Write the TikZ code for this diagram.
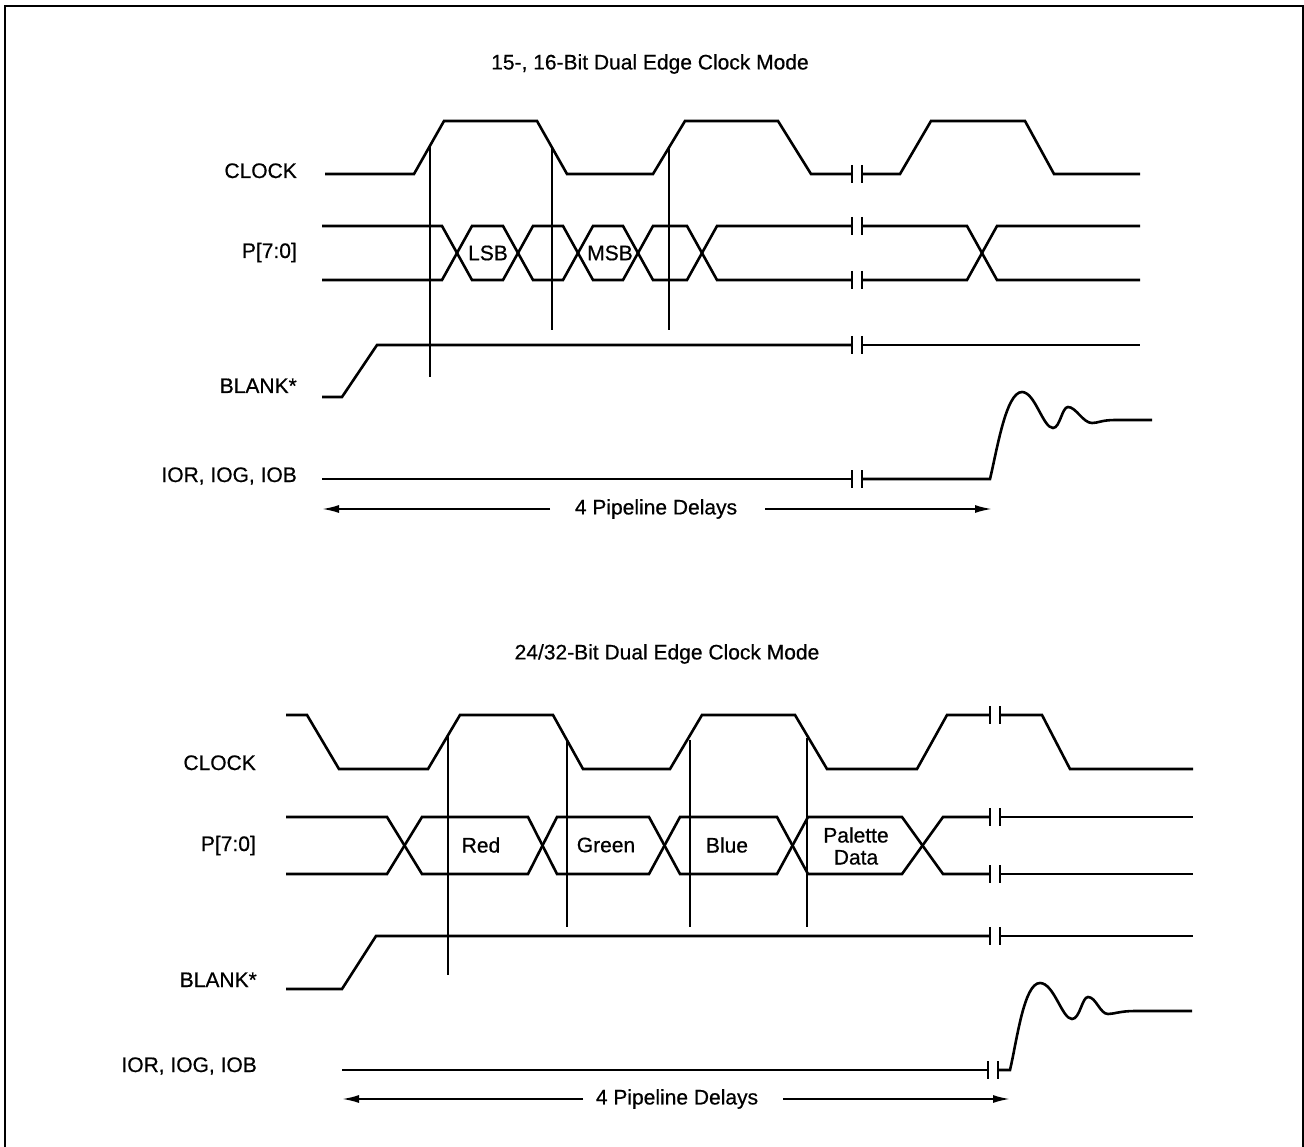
\documentclass[tikz,border=0pt]{standalone}
\usepackage{fontspec}
\setmainfont[FakeBold=0.6]{Liberation Sans}
\usetikzlibrary{arrows.meta}
\newcommand\brkticks[2]{\draw[brkmark] (#1,#2-9) -- (#1,#2+9) (#1+10,#2-9) -- (#1+10,#2+9);}
\begin{document}
\begin{tikzpicture}[x=1pt,y=-1pt,
  wave/.style={line width=2.6pt, line join=miter},
  refline/.style={line width=1.3pt},
  lbl/.style={font=\fontsize{21}{23}\selectfont, inner sep=0pt},
  brkmark/.style={line width=1.6pt},
  arr/.style={line width=2pt, -{Latex[length=17pt,width=8pt]}}]
\useasboundingbox (0,0) rectangle (1304,1147);
% frame
\draw[line width=2pt] (5,1147) -- (5,6) -- (1303,6) -- (1303,1147);

% ================= TOP DIAGRAM =================
\node[lbl] (t1) at (650,64) {15-, 16-Bit Dual Edge Clock Mode};
\node[lbl, anchor=base east] (c1) at (297,178) {CLOCK};
\node[lbl, anchor=base east] (p1) at (297,258) {P[7:0]};
\node[lbl, anchor=base east] (b1) at (297,393) {BLANK*};
\node[lbl, anchor=base east] (i1) at (297,482) {IOR, IOG, IOB};

% clock
\draw[wave] (325,174) -- (414,174) -- (444,121) -- (537,121) -- (567,174) -- (653,174) -- (685,121) -- (778,121) -- (811,174) -- (852,174);
\draw[wave] (862,174) -- (900,174) -- (931,121) -- (1025,121) -- (1054,174) -- (1140,174);
\brkticks{852}{174}
% P bus
\draw[wave] (322,226) -- (442,226) -- (472,280) -- (503,280) -- (533,226) -- (563,226) -- (593,280) -- (623,280) -- (653,226) -- (687,226) -- (717,280) -- (852,280);
\draw[wave] (862,280) -- (967,280) -- (997,226) -- (1140,226);
\draw[wave] (322,280) -- (442,280) -- (472,226) -- (503,226) -- (533,280) -- (563,280) -- (593,226) -- (623,226) -- (653,280) -- (687,280) -- (717,226) -- (852,226);
\draw[wave] (862,226) -- (967,226) -- (997,280) -- (1140,280);
\brkticks{852}{226}
\brkticks{852}{280}
\node[lbl] (lsb) at (488,253) {LSB};
\node[lbl] (msb) at (610,253) {MSB};
% blank
\draw[wave] (322,397) -- (342,397) -- (377,345) -- (852,345);
\draw[wave] (862,345) -- (1140,345);
\brkticks{852}{345}
% IOR
\draw[wave] (322,479) -- (852,479);
\draw[wave] (862,479) -- (990,479) .. controls (997,450) and (1006,392) .. (1022,392)
  .. controls (1035,392) and (1043,428) .. (1053,428)
  .. controls (1060,428) and (1062,407) .. (1068,407)
  .. controls (1076,407) and (1083,423) .. (1092,423)
  .. controls (1098,423) and (1102,420) .. (1115,420) -- (1152,420);
\brkticks{852}{479}
% reference lines
\draw[refline] (430,147) -- (430,377);
\draw[refline] (552,147) -- (552,330);
\draw[refline] (669,147) -- (669,330);
% pipeline arrow
\node[lbl] (d1) at (656,509) {4 Pipeline Delays};
\coordinate (d1l) at (322,509);
\coordinate (d1r) at (992,509);
\draw[arr] (550,509) -- (d1l);
\draw[arr] (765,509) -- (d1r);

% ================= BOTTOM DIAGRAM =================
\node[lbl] (t2) at (667,654) {24/32-Bit Dual Edge Clock Mode};
\node[lbl, anchor=base east] (c2) at (256,770) {CLOCK};
\node[lbl, anchor=base east] (p2) at (256,851) {P[7:0]};
\node[lbl, anchor=base east] (b2) at (257,987) {BLANK*};
\node[lbl, anchor=base east] (i2) at (257,1072) {IOR, IOG, IOB};

% clock
\draw[wave] (286,715) -- (307,715) -- (339,769) -- (428,769) -- (460,715) -- (553,715) -- (583,769) -- (670,769) -- (702,715) -- (795,715) -- (827,769) -- (917,769) -- (947,715) -- (990,715);
\draw[wave] (1000,715) -- (1042,715) -- (1070,769) -- (1193,769);
\brkticks{990}{715}
% P bus
\draw[wave] (286,817) -- (387,817) -- (422,874) -- (528,874) -- (557,817) -- (649,817) -- (680,874) -- (777,874) -- (808,817) -- (902,817) -- (943,874) -- (990,874);
\draw[wave] (1000,874) -- (1193,874);
\draw[wave] (286,874) -- (387,874) -- (422,817) -- (528,817) -- (557,874) -- (649,874) -- (680,817) -- (777,817) -- (808,874) -- (902,874) -- (943,817) -- (990,817);
\draw[wave] (1000,817) -- (1193,817);
\brkticks{990}{817}
\brkticks{990}{874}
\node[lbl] (red) at (481,845) {Red};
\node[lbl] (green) at (606,845) {Green};
\node[lbl] (blue) at (727,845) {Blue};
\node[lbl, align=center, font=\fontsize{21}{22}\selectfont] (pal) at (856,846) {Palette\\Data};
% blank
\draw[wave] (286,989) -- (342,989) -- (376,936) -- (990,936);
\draw[wave] (1000,936) -- (1193,936);
\brkticks{990}{936}
% IOR
\draw[wave] (342,1070) -- (988,1070);
\draw[wave] (998,1070) -- (1010,1070) .. controls (1017,1040) and (1024,983) .. (1040,983)
  .. controls (1054,983) and (1062,1019) .. (1072,1019)
  .. controls (1080,1019) and (1082,997) .. (1088,997)
  .. controls (1096,997) and (1100,1014) .. (1108,1014)
  .. controls (1114,1014) and (1120,1011) .. (1135,1011) -- (1192,1011);
\brkticks{988}{1070}
% reference lines
\draw[refline] (448,735) -- (448,975);
\draw[refline] (567,740) -- (567,927);
\draw[refline] (690,740) -- (690,927);
\draw[refline] (807,738) -- (807,927);
% pipeline arrow
\node[lbl] (d2) at (677,1099) {4 Pipeline Delays};
\coordinate (d2l) at (342,1099);
\coordinate (d2r) at (1010,1099);
\draw[arr] (583,1099) -- (d2l);
\draw[arr] (783,1099) -- (d2r);
\end{tikzpicture}
\end{document}
